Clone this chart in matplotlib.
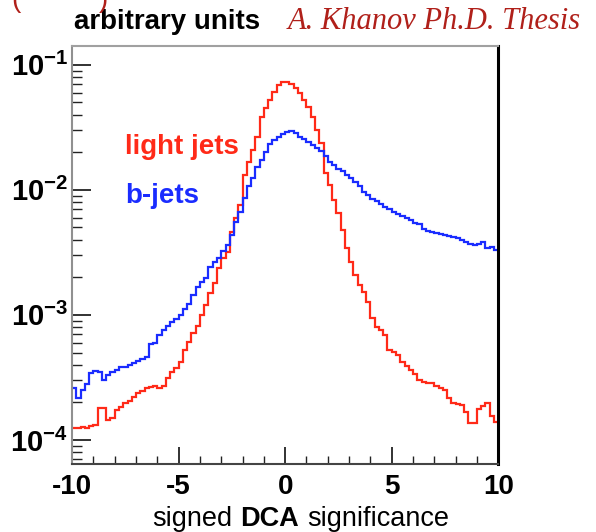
import matplotlib
matplotlib.use("Agg")
import matplotlib.pyplot as plt
import numpy as np

plt.rcParams['font.family'] = ['Liberation Sans', 'DejaVu Sans']
plt.rcParams['mathtext.fontset'] = 'custom'
plt.rcParams['mathtext.rm'] = 'Liberation Sans'
plt.rcParams['mathtext.bf'] = 'Liberation Sans:bold'

# 100 bins of signed DCA significance, -10 .. 10
bin_edges = np.linspace(-10, 10, 101)

light_jets = [
    1.25e-4, 1.25e-4, 1.27e-4, 1.25e-4, 1.29e-4, 1.32e-4, 1.80e-4, 1.80e-4, 1.45e-4, 1.50e-4,
    1.74e-4, 1.84e-4, 1.98e-4, 2.05e-4, 2.21e-4, 2.38e-4, 2.47e-4, 2.61e-4, 2.65e-4, 2.70e-4,
    2.61e-4, 2.70e-4, 3.13e-4, 3.50e-4, 3.77e-4, 4.21e-4, 5.25e-4, 6.08e-4, 7.18e-4, 8.17e-4,
    1.00e-3, 1.20e-3, 1.50e-3, 1.80e-3, 2.38e-3, 2.86e-3, 3.19e-3, 4.61e-3, 5.97e-3, 7.59e-3,
    1.32e-2, 1.67e-2, 2.09e-2, 2.65e-2, 3.84e-2, 4.53e-2, 5.25e-2, 6.08e-2, 6.92e-2, 7.31e-2,
    7.31e-2, 7.05e-2, 6.55e-2, 5.97e-2, 5.25e-2, 4.61e-2, 3.84e-2, 3.02e-2, 2.38e-2, 1.37e-2,
    1.10e-2, 8.32e-3, 6.55e-3, 4.79e-3, 3.44e-3, 2.65e-3, 2.09e-3, 1.74e-3, 1.53e-3, 1.27e-3,
    9.46e-4, 8.02e-4, 7.59e-4, 6.92e-4, 5.25e-4, 5.06e-4, 4.79e-4, 4.21e-4, 3.91e-4, 3.63e-4,
    3.37e-4, 3.02e-4, 2.91e-4, 2.86e-4, 2.86e-4, 2.70e-4, 2.61e-4, 2.51e-4, 2.17e-4, 1.98e-4,
    1.94e-4, 1.91e-4, 1.67e-4, 1.37e-4, 1.37e-4, 1.77e-4, 1.87e-4, 1.98e-4, 1.56e-4, 1.39e-4,
]

b_jets = [
    2.61e-4, 2.17e-4, 2.51e-4, 2.81e-4, 3.44e-4, 3.56e-4, 3.50e-4, 3.02e-4, 3.31e-4, 3.50e-4,
    3.63e-4, 3.84e-4, 3.84e-4, 3.98e-4, 4.13e-4, 4.29e-4, 4.45e-4, 4.61e-4, 5.86e-4, 5.97e-4,
    6.92e-4, 7.59e-4, 8.17e-4, 8.79e-4, 9.29e-4, 1.00e-3, 1.12e-3, 1.22e-3, 1.45e-3, 1.67e-3,
    1.84e-3, 1.98e-3, 2.42e-3, 2.65e-3, 2.86e-3, 3.25e-3, 3.63e-3, 4.37e-3, 5.55e-3, 6.67e-3,
    8.63e-3, 1.08e-2, 1.25e-2, 1.53e-2, 1.74e-2, 2.01e-2, 2.33e-2, 2.51e-2, 2.65e-2, 2.81e-2,
    2.91e-2, 2.96e-2, 2.86e-2, 2.65e-2, 2.56e-2, 2.42e-2, 2.29e-2, 2.17e-2, 2.05e-2, 1.87e-2,
    1.67e-2, 1.58e-2, 1.47e-2, 1.42e-2, 1.32e-2, 1.25e-2, 1.16e-2, 1.08e-2, 9.64e-3, 9.12e-3,
    8.47e-3, 8.17e-3, 7.73e-3, 7.31e-3, 7.05e-3, 6.67e-3, 6.43e-3, 6.19e-3, 5.97e-3, 5.75e-3,
    5.45e-3, 5.35e-3, 4.88e-3, 4.70e-3, 4.61e-3, 4.53e-3, 4.45e-3, 4.37e-3, 4.29e-3, 4.21e-3,
    4.13e-3, 3.98e-3, 3.84e-3, 3.70e-3, 3.63e-3, 3.70e-3, 3.84e-3, 3.44e-3, 3.50e-3, 3.31e-3,
]

x_ticks = [-10, -5, 0, 5, 10]
y_ticks = [1e-4, 1e-3, 1e-2, 1e-1]
y_tick_labels = [r'$\mathbf{10^{-4}}$', r'$\mathbf{10^{-3}}$', r'$\mathbf{10^{-2}}$', r'$\mathbf{10^{-1}}$']

red = '#ff2a18'
blue = '#1a2cff'

fig = plt.figure(figsize=(5.96, 5.32), dpi=100)
ax = fig.add_axes([0.121, 0.128, 0.715, 0.786])

ax.stairs(light_jets, bin_edges, baseline=None, color=red, lw=1.6)
ax.stairs(b_jets, bin_edges, baseline=None, color=blue, lw=1.6)

ax.set_yscale('log')
ax.set_xlim(-10, 10)
ax.set_ylim(6.43e-5, 0.142)

ax.set_xticks(x_ticks)
ax.set_xticklabels([str(t) for t in x_ticks], fontsize=20, fontweight='bold')
ax.set_xticks(np.arange(-10, 11, 1), minor=True)
ax.set_yticks(y_ticks)
ax.set_yticklabels(y_tick_labels, fontsize=21)
ax.yaxis.set_minor_locator(matplotlib.ticker.LogLocator(base=10, subs=np.arange(2, 10)))
ax.yaxis.set_minor_formatter(matplotlib.ticker.NullFormatter())

ax.tick_params(axis='both', which='both', direction='in', top=False, right=False, color='#222222')
ax.tick_params(axis='x', which='major', length=12, width=1.3, pad=7)
ax.tick_params(axis='x', which='minor', length=6, width=1.0)
ax.tick_params(axis='y', which='major', length=14, width=1.3, pad=3)
ax.tick_params(axis='y', which='minor', length=7, width=1.0)

ax.spines['top'].set_color('#a0a0a0')
ax.spines['top'].set_linewidth(1.5)
ax.spines['left'].set_color('#909090')
ax.spines['left'].set_linewidth(1.5)
ax.spines['bottom'].set_color('#444444')
ax.spines['bottom'].set_linewidth(1.5)
ax.spines['right'].set_color('black')
ax.spines['right'].set_linewidth(2.2)

ax.text(-7.5, 2.2e-2, 'light jets', color=red, fontsize=20, fontweight='bold', va='center')
ax.text(-7.5, 8.9e-3, 'b-jets', color=blue, fontsize=20, fontweight='bold', va='center')

# x axis title, "DCA" in bold; words placed one after another
fig.canvas.draw()
renderer = fig.canvas.get_renderer()
x_px = 152
for word, weight in [('signed', 'normal'), ('DCA', 'bold'), ('significance', 'normal')]:
    t = fig.text(x_px / 596, 0.012, word, fontsize=19.5, fontweight=weight,
                 ha='left', va='baseline')
    x_px = t.get_window_extent(renderer).x1 + 8

fig.text(0.124, 0.945, 'arbitrary units', fontsize=20, fontweight='bold', ha='left', va='baseline')
fig.text(0.482, 0.945, 'A. Khanov Ph.D. Thesis', fontsize=22, style='italic',
         family='Liberation Serif', color='#b0201a', ha='left', va='baseline')
fig.text(0.02, 1.0, '(          )', fontsize=20, color='#b0201a', ha='left', va='center')

fig.savefig('out.png', dpi=100)
